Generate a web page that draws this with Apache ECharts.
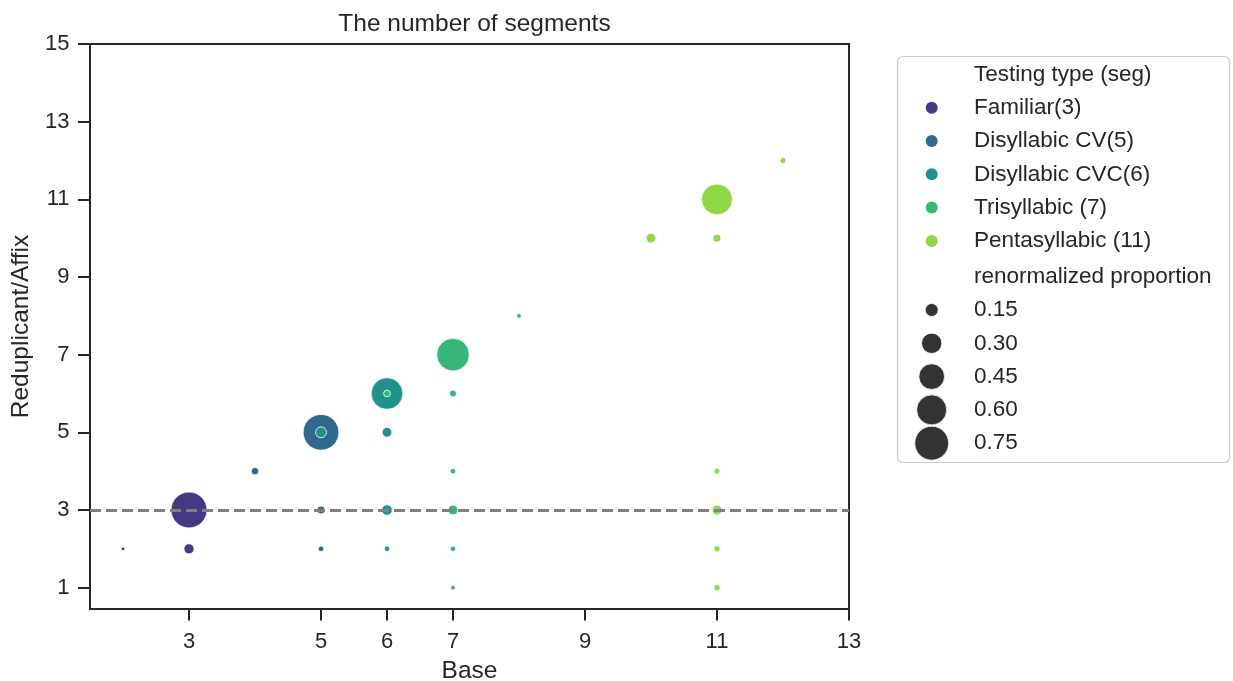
<!DOCTYPE html>
<html>
<head>
<meta charset="utf-8">
<script src="https://cdn.jsdelivr.net/npm/echarts@6/dist/echarts.min.js"></script>
<style>
  html, body { margin: 0; background: #fff; }
  #chart { width: 1233px; height: 681px; }
</style>
</head>
<body>
<div id="chart"></div>
<script>
// [base, reduplicant, renormalized proportion]
const familiar = [[2, 2, 0.055], [3, 3, 0.84], [3, 2, 0.11]]
const disyllabicCV = [[4, 4, 0.08], [5, 5, 0.83], [5, 3, 0.085], [5, 2, 0.065]]
const disyllabicCVC = [[5, 5, 0.12], [6, 6, 0.66], [6, 5, 0.105], [6, 3, 0.115], [6, 2, 0.065]]
const trisyllabic = [[6, 6, 0.075], [7, 7, 0.70], [7, 6, 0.075], [7, 4, 0.065], [7, 3, 0.105],
  [7, 2, 0.065], [7, 1, 0.06], [8, 8, 0.06]]
const pentasyllabic = [[10, 10, 0.105], [11, 11, 0.63], [11, 10, 0.085], [12, 12, 0.068],
  [11, 4, 0.068], [11, 3, 0.105], [11, 2, 0.07], [11, 1, 0.07]]

const seriesNames = ['Familiar(3)', 'Disyllabic CV(5)', 'Disyllabic CVC(6)', 'Trisyllabic (7)', 'Pentasyllabic (11)']
const seriesData = [familiar, disyllabicCV, disyllabicCVC, trisyllabic, pentasyllabic]
const colors = ['#443a83', '#31688e', '#21918c', '#35b779', '#8fd744']

const xTicks = [3, 5, 6, 7, 9, 11, 13]
const yTicks = [1, 3, 5, 7, 9, 11, 13, 15]
const sizeTicks = [0.15, 0.30, 0.45, 0.60, 0.75]
const refLine = 3

const FONT = '"Liberation Sans", Arial, sans-serif'
const TEXT = '#262626'

// marker area grows linearly with proportion (seaborn style)
function sizeOf(v) {
  return Math.sqrt(Math.max(1633 * v - 76, 9))
}

const chart = echarts.init(document.getElementById('chart'))

const series = seriesData.map((data, i) => ({
  name: seriesNames[i],
  type: 'scatter',
  data: data,
  symbol: 'circle',
  symbolSize: (val) => sizeOf(val[2]),
  itemStyle: { color: colors[i], borderColor: '#ffffff', borderWidth: 0.8, opacity: 1 },
  emphasis: { disabled: true },
}))

series[series.length - 1].markLine = {
  silent: true,
  symbol: 'none',
  z: 10,
  label: { show: false },
  lineStyle: { color: '#808080', width: 2.8, type: [11, 5] },
  data: [{ yAxis: refLine }],
}

const legendTop = 56
const rowGap = 33.3
const iconX = 931.7
const textX = 974
const sizeRows = []
sizeTicks.forEach((v, i) => {
  const cy = 310 + i * rowGap
  sizeRows.push({
    type: 'circle',
    shape: { cx: iconX, cy: cy, r: sizeOf(v) / 2 },
    style: { fill: '#333333', stroke: '#ffffff', lineWidth: 0.8 },
  })
  sizeRows.push({
    type: 'text',
    x: textX, y: cy,
    style: { text: v.toFixed(2), font: '22.5px ' + FONT, fill: TEXT, verticalAlign: 'middle' },
  })
})

chart.setOption({
  animation: false,
  backgroundColor: '#ffffff',
  title: {
    text: 'The number of segments',
    left: 469.5,
    textAlign: 'center',
    top: 7,
    textStyle: { fontFamily: FONT, fontSize: 24.5, fontWeight: 'normal', color: TEXT },
  },
  grid: {
    left: 90, top: 44, width: 759, height: 565,
    show: true, borderColor: TEXT, borderWidth: 2,
    outerBoundsMode: 'none',
  },
  xAxis: {
    type: 'value',
    min: 1.5, max: 13,
    name: 'Base',
    nameLocation: 'middle',
    nameGap: 50,
    nameTextStyle: { fontFamily: FONT, fontSize: 24.5, color: TEXT },
    axisLine: { show: true, lineStyle: { color: TEXT, width: 2 } },
    axisTick: { show: true, length: 11.5, lineStyle: { color: TEXT, width: 2 }, customValues: xTicks },
    axisLabel: { fontFamily: FONT, fontSize: 22, color: TEXT, margin: 22, customValues: xTicks },
    splitLine: { show: false },
  },
  yAxis: {
    type: 'value',
    min: 0.45, max: 15,
    name: 'Reduplicant/Affix',
    nameLocation: 'middle',
    nameGap: 51,
    nameTextStyle: { fontFamily: FONT, fontSize: 24.5, color: TEXT },
    axisLine: { show: true, lineStyle: { color: TEXT, width: 2 } },
    axisTick: { show: true, length: 12, lineStyle: { color: TEXT, width: 2 }, customValues: yTicks },
    axisLabel: { fontFamily: FONT, fontSize: 22, color: TEXT, margin: 20.5, customValues: yTicks },
    splitLine: { show: false },
  },
  legend: {
    orient: 'vertical',
    left: iconX - 6,
    top: 95.7,
    padding: 0,
    itemWidth: 12,
    itemHeight: 12,
    itemGap: rowGap - 24,
    icon: 'circle',
    selectedMode: false,
    z: 5,
    itemStyle: { borderWidth: 0 },
    textStyle: { fontFamily: FONT, fontSize: 22.5, color: TEXT, lineHeight: 24, padding: [0, 0, 0, 31.3] },
    data: seriesNames,
  },
  graphic: [
    {
      type: 'rect',
      z: 0,
      shape: { x: 897.5, y: legendTop + 0.5, width: 332, height: 406, r: 5 },
      style: { fill: '#ffffff', stroke: '#cccccc', lineWidth: 1.2 },
    },
    {
      type: 'text',
      z: 1,
      x: textX, y: 75,
      style: { text: 'Testing type (seg)', font: '22.5px ' + FONT, fill: TEXT, verticalAlign: 'middle' },
    },
    {
      type: 'text',
      z: 1,
      x: textX, y: 276.7,
      style: { text: 'renormalized proportion', font: '22.5px ' + FONT, fill: TEXT, verticalAlign: 'middle' },
    },
    { type: 'group', z: 1, children: sizeRows },
  ],
  series: series,
})

window.addEventListener('resize', () => chart.resize())
</script>
</body>
</html>
